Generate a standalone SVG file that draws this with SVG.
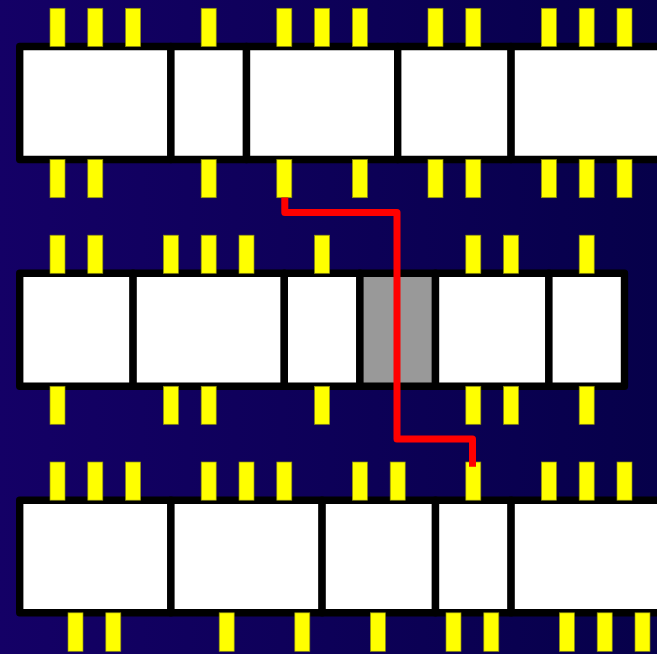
<svg xmlns="http://www.w3.org/2000/svg" width="657" height="654" viewBox="0 0 657 654">
<defs>
<linearGradient id="bg" x1="0" y1="0" x2="1" y2="0">
<stop offset="0" stop-color="#140066"/>
<stop offset="1" stop-color="#06004a"/>
</linearGradient>
</defs>
<style>
.cell{fill:#ffffff;stroke:#000000;stroke-width:7.4;stroke-linejoin:round}
.gray{fill:#999999}
.pin{fill:#ffff00;stroke:#8c8c10;stroke-width:0.7}
.wire{fill:none;stroke:#ff0000;stroke-width:7;stroke-linejoin:round;stroke-linecap:butt}
</style>
<rect x="0" y="0" width="657" height="654" fill="url(#bg)"/>
<g id="row1">
<g id="r1c1"><rect class="cell" x="19.7" y="46.5" width="151.2" height="113"/></g>
<g id="r1c2"><rect class="cell" x="170.9" y="46.5" width="75.6" height="113"/></g>
<g id="r1c3"><rect class="cell" x="246.5" y="46.5" width="151.2" height="113"/></g>
<g id="r1c4"><rect class="cell" x="397.7" y="46.5" width="113.4" height="113"/></g>
<g id="r1c5"><rect class="cell" x="511.1" y="46.5" width="189" height="113"/></g>
</g>
<g id="row2">
<g id="r2c1"><rect class="cell" x="19.7" y="273.3" width="113.4" height="113"/></g>
<g id="r2c2"><rect class="cell" x="133.1" y="273.3" width="151.2" height="113"/></g>
<g id="r2c3"><rect class="cell" x="284.3" y="273.3" width="75.6" height="113"/></g>
<g id="r2c4"><rect class="cell gray" x="359.9" y="273.3" width="75.6" height="113"/></g>
<g id="r2c5"><rect class="cell" x="435.5" y="273.3" width="113.4" height="113"/></g>
<g id="r2c6"><rect class="cell" x="548.9" y="273.3" width="75.6" height="113"/></g>
</g>
<g id="row3">
<g id="r3c1"><rect class="cell" x="19.7" y="500.2" width="151.2" height="112.6"/></g>
<g id="r3c2"><rect class="cell" x="170.9" y="500.2" width="151.2" height="112.6"/></g>
<g id="r3c3"><rect class="cell" x="322.1" y="500.2" width="113.4" height="112.6"/></g>
<g id="r3c4"><rect class="cell" x="435.5" y="500.2" width="75.6" height="112.6"/></g>
<g id="r3c5"><rect class="cell" x="511.1" y="500.2" width="189" height="112.6"/></g>
</g>
<g id="pins">
<g id="r1-top">
<rect class="pin" x="50" y="8.3" width="15" height="38.2"/>
<rect class="pin" x="87.8" y="8.3" width="15" height="38.2"/>
<rect class="pin" x="125.6" y="8.3" width="15" height="38.2"/>
<rect class="pin" x="201.2" y="8.3" width="15" height="38.2"/>
<rect class="pin" x="276.8" y="8.3" width="15" height="38.2"/>
<rect class="pin" x="314.6" y="8.3" width="15" height="38.2"/>
<rect class="pin" x="352.4" y="8.3" width="15" height="38.2"/>
<rect class="pin" x="428" y="8.3" width="15" height="38.2"/>
<rect class="pin" x="465.8" y="8.3" width="15" height="38.2"/>
<rect class="pin" x="541.4" y="8.3" width="15" height="38.2"/>
<rect class="pin" x="579.2" y="8.3" width="15" height="38.2"/>
<rect class="pin" x="617" y="8.3" width="15" height="38.2"/>
</g>
<g id="r1-bottom">
<rect class="pin" x="50" y="159.5" width="15" height="38.2"/>
<rect class="pin" x="87.8" y="159.5" width="15" height="38.2"/>
<rect class="pin" x="201.2" y="159.5" width="15" height="38.2"/>
<rect class="pin" x="276.8" y="159.5" width="15" height="38.2"/>
<rect class="pin" x="352.4" y="159.5" width="15" height="38.2"/>
<rect class="pin" x="428" y="159.5" width="15" height="38.2"/>
<rect class="pin" x="465.8" y="159.5" width="15" height="38.2"/>
<rect class="pin" x="541.4" y="159.5" width="15" height="38.2"/>
<rect class="pin" x="579.2" y="159.5" width="15" height="38.2"/>
<rect class="pin" x="617" y="159.5" width="15" height="38.2"/>
</g>
<g id="r2-top">
<rect class="pin" x="50" y="235.2" width="15" height="38.1"/>
<rect class="pin" x="87.8" y="235.2" width="15" height="38.1"/>
<rect class="pin" x="163.4" y="235.2" width="15" height="38.1"/>
<rect class="pin" x="201.2" y="235.2" width="15" height="38.1"/>
<rect class="pin" x="239" y="235.2" width="15" height="38.1"/>
<rect class="pin" x="314.6" y="235.2" width="15" height="38.1"/>
<rect class="pin" x="465.8" y="235.2" width="15" height="38.1"/>
<rect class="pin" x="503.6" y="235.2" width="15" height="38.1"/>
<rect class="pin" x="579.2" y="235.2" width="15" height="38.1"/>
</g>
<g id="r2-bottom">
<rect class="pin" x="50" y="386.3" width="15" height="38"/>
<rect class="pin" x="163.4" y="386.3" width="15" height="38"/>
<rect class="pin" x="201.2" y="386.3" width="15" height="38"/>
<rect class="pin" x="314.6" y="386.3" width="15" height="38"/>
<rect class="pin" x="465.8" y="386.3" width="15" height="38"/>
<rect class="pin" x="503.6" y="386.3" width="15" height="38"/>
<rect class="pin" x="579.2" y="386.3" width="15" height="38"/>
</g>
<g id="r3-top">
<rect class="pin" x="50" y="462" width="15" height="38.2"/>
<rect class="pin" x="87.8" y="462" width="15" height="38.2"/>
<rect class="pin" x="125.6" y="462" width="15" height="38.2"/>
<rect class="pin" x="201.2" y="462" width="15" height="38.2"/>
<rect class="pin" x="239" y="462" width="15" height="38.2"/>
<rect class="pin" x="276.8" y="462" width="15" height="38.2"/>
<rect class="pin" x="352.4" y="462" width="15" height="38.2"/>
<rect class="pin" x="390.2" y="462" width="15" height="38.2"/>
<rect class="pin" x="465.8" y="462" width="15" height="38.2"/>
<rect class="pin" x="541.4" y="462" width="15" height="38.2"/>
<rect class="pin" x="579.2" y="462" width="15" height="38.2"/>
<rect class="pin" x="617" y="462" width="15" height="38.2"/>
</g>
<g id="r3-bottom">
<rect class="pin" x="68" y="612.8" width="15" height="38.5"/>
<rect class="pin" x="105.8" y="612.8" width="15" height="38.5"/>
<rect class="pin" x="219.2" y="612.8" width="15" height="38.5"/>
<rect class="pin" x="294.8" y="612.8" width="15" height="38.5"/>
<rect class="pin" x="370.4" y="612.8" width="15" height="38.5"/>
<rect class="pin" x="446" y="612.8" width="15" height="38.5"/>
<rect class="pin" x="483.8" y="612.8" width="15" height="38.5"/>
<rect class="pin" x="559.4" y="612.8" width="15" height="38.5"/>
<rect class="pin" x="597.2" y="612.8" width="15" height="38.5"/>
<rect class="pin" x="635" y="612.8" width="15" height="38.5"/>
</g>
</g>
<g id="connectors">
<path class="wire" d="M284.8 197.5 V212.5 H397 V439 H472.5 V466.7"/>
</g>
</svg>
